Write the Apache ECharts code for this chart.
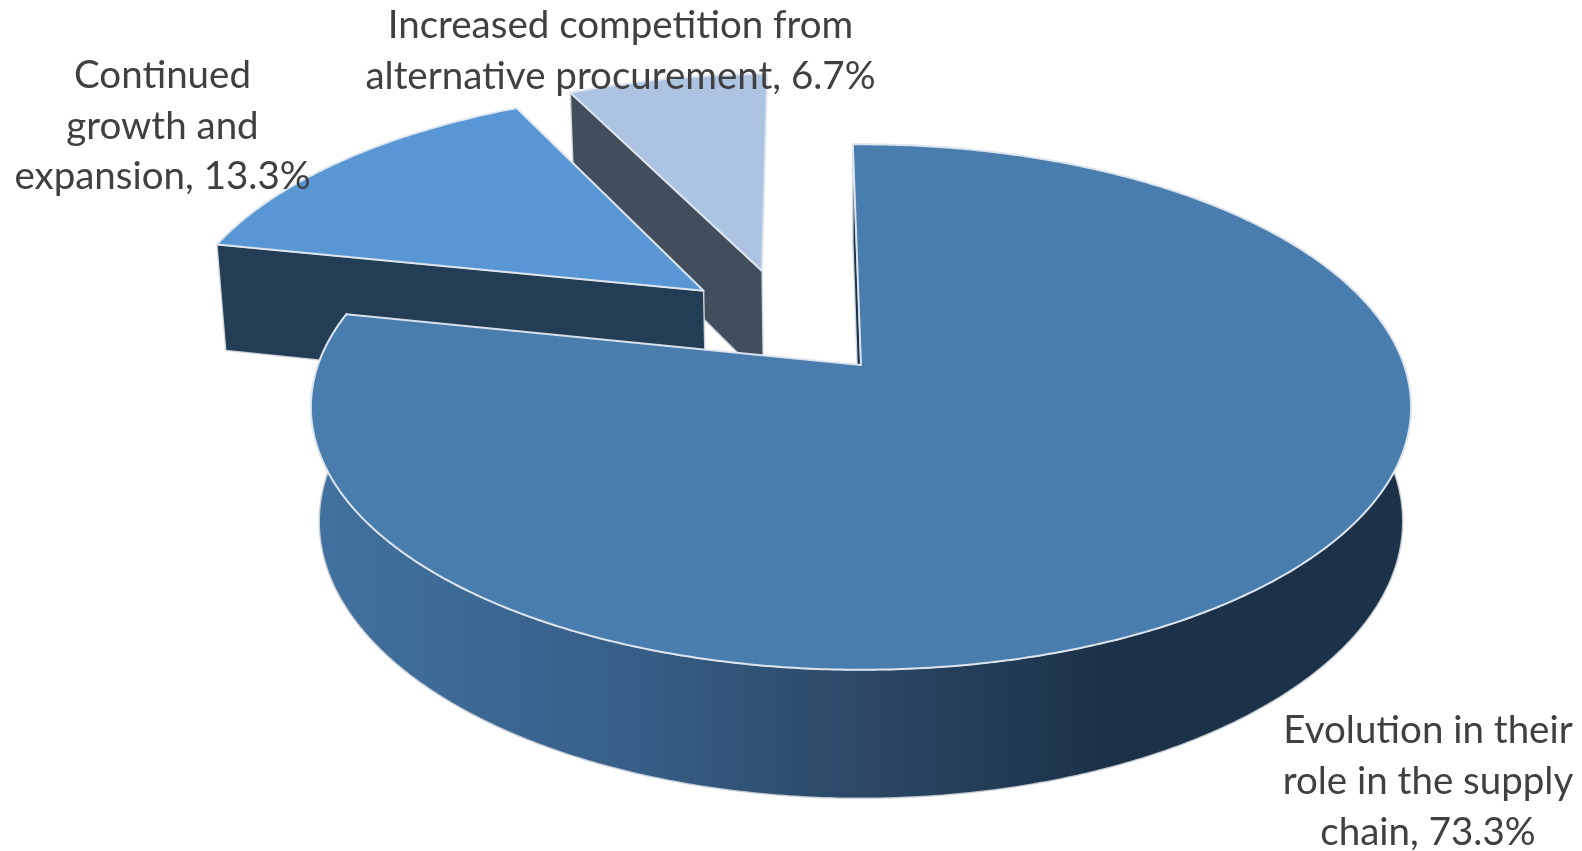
<!DOCTYPE html>
<html>
<head>
<meta charset="utf-8">
<style>html,body{margin:0;padding:0;background:#fff}#c{width:1582px;height:851px}</style>
<script src="https://cdn.jsdelivr.net/npm/echarts@6/dist/echarts.min.js"></script>
</head>
<body>
<div id="c"></div>
<script>
const categories = ['Evolution in their role in the supply chain', 'Continued growth and expansion', 'Increased competition from alternative procurement'];
const values = [73.3, 13.3, 6.7];
const labelLines = [
  ['Evolution in their', 'role in the supply', 'chain, 73.3%'],
  ['Continued', 'growth and', 'expansion, 13.3%'],
  ['Increased competition from', 'alternative procurement, 6.7%']
];
const topColors = ['#487dae', '#5897d4', '#adc3e2'];
const faceColors = ['#1c3249', '#233d55', '#434e5c'];

// Perspective view of the disc
const view = {ax: 861, ay: 365, R: 543, A: 256, k: 0.16, H: 114.5, c: 0.015, start: -1};
const explode = [[0, 0], [-0.304, 0.304], [-0.1936, 0.39]];
const labelPos = [[1428, 731, 51], [162.5, 76, 50.5], [620.5, 26, 50.5]];

function project(u, v, low) {
  const w = 1 + view.k * v + (low ? view.c : 0);
  return [view.ax + view.R * u / w, view.ay + (-view.A * v + (low ? view.H : 0)) / w];
}
const total = values.reduce((a, b) => a + b, 0);
function sliceAngles(i) {
  let s = view.start;
  for (let j = 0; j < i; j++) s += values[j] / total * 360;
  return [s, s + values[i] / total * 360];
}
function arc(i, low) {
  const [a0, a1] = sliceAngles(i), [ox, oy] = explode[i], pts = [];
  const n = Math.ceil(a1 - a0) * 2;
  for (let t = 0; t <= n; t++) {
    const a = (a0 + (a1 - a0) * t / n) * Math.PI / 180;
    pts.push(project(Math.sin(a) + ox, Math.cos(a) + oy, low));
  }
  return pts;
}
const edge = {stroke: 'rgba(226,232,240,0.95)', lineWidth: 2, lineJoin: 'round'};
const wallFill = {
  type: 'linear', x: 320, y: 0, x2: 1402, y2: 0, global: true,
  colorStops: [
    {offset: 0, color: '#41719f'},
    {offset: 0.28, color: '#375f88'},
    {offset: 0.5, color: '#2b4866'},
    {offset: 0.72, color: '#1c3249'},
    {offset: 1, color: '#1c3249'}
  ]
};
function poly(points, style, z2) {
  return {type: 'polygon', shape: {points}, style, z2, silent: true};
}
function renderItem(params) {
  const i = params.dataIndex, base = (2 - i) * 10, kids = [];
  const top = arc(i, false), low = arc(i, true);
  const apexT = project(explode[i][0], explode[i][1], false);
  const apexL = project(explode[i][0], explode[i][1], true);
  const face = {fill: faceColors[i], stroke: 'rgba(215,220,226,0.9)', lineWidth: 1.5, lineJoin: 'round'};
  if (i === 0) {
    const wall = top.concat(low.slice().reverse());
    kids.push(poly(wall, {fill: wallFill, stroke: 'rgba(205,210,216,0.9)', lineWidth: 1.5}, base));
  }
  kids.push(poly([apexT, top[0], low[0], apexL], face, base + 1));
  kids.push(poly([apexT].concat(top), Object.assign({fill: topColors[i]}, edge), base + 2));
  labelLines[i].forEach((txt, li) => {
    kids.push({
      type: 'text', z2: 100, silent: true,
      style: {
        text: txt, x: labelPos[i][0], y: labelPos[i][1] + li * labelPos[i][2],
        align: 'center', verticalAlign: 'middle',
        font: '38.5px Lato, "Open Sans", sans-serif', fill: '#404040'
      }
    });
  });
  return {type: 'group', children: kids};
}
const chart = echarts.init(document.getElementById('c'), null, {renderer: 'canvas'});
chart.setOption({
  animation: false,
  backgroundColor: '#ffffff',
  series: [{
    type: 'custom', coordinateSystem: 'none', renderItem, silent: true,
    data: categories.map((name, i) => ({name, value: values[i]}))
  }]
});
</script>
</body>
</html>
